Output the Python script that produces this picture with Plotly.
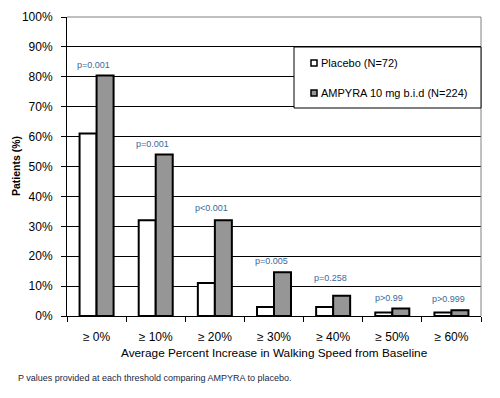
import plotly.graph_objects as go

categories = ["≥ 0%", "≥ 10%", "≥ 20%", "≥ 30%", "≥ 40%", "≥ 50%", "≥ 60%"]
placebo = [61, 32, 11, 3, 3, 1.2, 1.2]
ampyra = [80.4, 54, 32, 14.6, 6.8, 2.5, 1.9]
p_labels = ["p=0.001", "p=0.001", "p<0.001", "p=0.005", "p=0.258", "p>0.99", "p>0.999"]
series_names = ["Placebo (N=72)", "AMPYRA 10 mg b.i.d (N=224)"]
y_ticks = list(range(0, 101, 10))
y_tick_text = [f"{v}%" for v in y_ticks]

FONT = "Liberation Sans, Arial, sans-serif"
OFF = 8  # page body margin
W, H = 500 - OFF, 398 - OFF
# plot area in screenshot pixels: x 67..481, y 17..316
L, R, T, B = 67 - OFF, 500 - 481, 17 - OFF, 398 - 316
PW, PH = 481 - 67, 316 - 17
# extra pixel lift of individual p-value labels (style only)
label_lift = [0, 0, 1, 0, 7, 0, 0]


def px_x(px):
    return (px - 67) / PW


def px_y(py):
    return (316 - py) / PH


fig = go.Figure()
fig.add_trace(go.Bar(x=categories, y=placebo, name=series_names[0],
                     marker=dict(color="white", line=dict(color="black", width=2)),
                     showlegend=False))
fig.add_trace(go.Bar(x=categories, y=ampyra, name=series_names[1],
                     marker=dict(color="#969696", line=dict(color="black", width=2)),
                     showlegend=False))

annotations = []
for c, v, t, lift in zip(categories, ampyra, p_labels, label_lift):
    annotations.append(dict(x=c, y=v, xref="x", yref="y", text=t, showarrow=False,
                            xanchor="center", yanchor="bottom", yshift=4 + lift, xshift=-3,
                            font=dict(family=FONT, size=9, color="#3a6a9c")))

# y-axis title
annotations.append(dict(x=px_x(16), y=px_y(166), xref="paper", yref="paper",
                        xanchor="center", yanchor="middle",
                        text="<b>Patients (%)</b>", textangle=-90, showarrow=False,
                        font=dict(family=FONT, size=10.5, color="black")))
# x-axis title
annotations.append(dict(x=px_x(274), y=px_y(353), xref="paper", yref="paper",
                        xanchor="center", yanchor="middle",
                        text="Average Percent Increase in Walking Speed from Baseline",
                        showarrow=False, font=dict(family=FONT, size=11.8, color="black")))
# footnote
annotations.append(dict(x=px_x(16), y=px_y(378), xref="paper", yref="paper",
                        xanchor="left", yanchor="middle",
                        text="P values provided at each threshold comparing AMPYRA to placebo.",
                        showarrow=False, font=dict(family=FONT, size=9, color="#202840")))

shapes = []
# plot-area top and right border (gray)
shapes.append(dict(type="line", xref="paper", yref="paper", x0=0, x1=1, y0=1, y1=1,
                   line=dict(color="#808080", width=1), layer="above"))
shapes.append(dict(type="line", xref="paper", yref="paper", x0=1, x1=1, y0=0, y1=1,
                   line=dict(color="#808080", width=1), layer="above"))
# legend box
shapes.append(dict(type="rect", xref="paper", yref="paper",
                   x0=px_x(294), x1=px_x(481), y0=px_y(108), y1=px_y(47),
                   fillcolor="white", line=dict(color="black", width=1), layer="above"))
legend_colors = ["white", "#969696"]
legend_y = [63, 93]
for name, col, ly in zip(series_names, legend_colors, legend_y):
    shapes.append(dict(type="rect", xref="paper", yref="paper",
                       x0=px_x(311), x1=px_x(317), y0=px_y(ly + 3), y1=px_y(ly - 3),
                       fillcolor=col, line=dict(color="black", width=1.5), layer="above"))
    annotations.append(dict(x=px_x(319), y=px_y(ly), xref="paper", yref="paper",
                            xanchor="left", yanchor="middle", text=name, showarrow=False,
                            font=dict(family=FONT, size=11, color="black")))

fig.update_layout(
    width=W, height=H,
    margin=dict(l=L, r=R, t=T, b=B, autoexpand=False),
    paper_bgcolor="white", plot_bgcolor="white",
    barmode="group", bargap=0.425, bargroupgap=0,
    font=dict(family=FONT, color="black"),
    annotations=annotations, shapes=shapes,
    xaxis=dict(type="category", showline=True, linecolor="black", linewidth=1,
               ticks="outside", tickson="boundaries", ticklen=5, tickcolor="black",
               showgrid=False, tickfont=dict(family=FONT, size=12, color="black"),
               ticklabelstandoff=10),
    yaxis=dict(range=[0, 100], tickvals=y_ticks, ticktext=y_tick_text,
               showline=True, linecolor="black", linewidth=1,
               ticks="outside", ticklen=5, tickcolor="black",
               showgrid=True, gridcolor="black", gridwidth=1, zeroline=False,
               tickfont=dict(family=FONT, size=12, color="black"),
               ticklabelstandoff=6),
)

fig.write_html("out.html")
